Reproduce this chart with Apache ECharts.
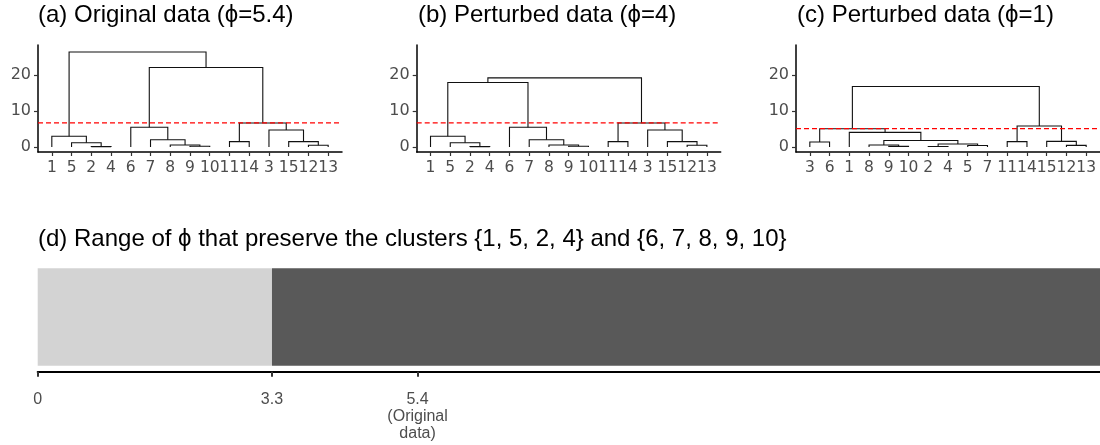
<!DOCTYPE html>
<html>
<head>
<meta charset="utf-8">
<script src="https://cdn.jsdelivr.net/npm/echarts@6/dist/echarts.min.js"></script>
<style>
html,body{margin:0;padding:0;background:#fff;}
#chart{width:1100px;height:445px;}
</style>
</head>
<body>
<div id="chart"></div>
<script>
// ---------- DATA ----------
// Dendrogram leaf orders (left to right)
const leavesA = ['1','5','2','4','6','7','8','9','10','11','14','3','15','12','13'];
const leavesB = ['1','5','2','4','6','7','8','9','10','11','14','3','15','12','13'];
const leavesC = ['3','6','1','8','9','10','2','4','5','7','11','14','15','12','13'];
// hclust-style merges: negative = leaf label, positive = earlier merge (1-based)
const mergesA = [[-2,-4],[-5,1],[-1,2],[-9,-10],[-8,4],[-7,5],[-6,6],[-11,-14],[-12,-13],[-15,9],[-3,10],[8,11],[7,12],[3,13]];
const heightsA = [0.1,1.2,3.0,0.2,0.55,2.0,5.5,1.5,0.5,1.5,4.7,6.65,22.1,26.4];
const mergesB = [[-2,-4],[-5,1],[-1,2],[-9,-10],[-8,4],[-7,5],[-6,6],[-11,-14],[-12,-13],[-15,9],[-3,10],[8,11],[3,7],[13,12]];
const heightsB = [0.1,1.2,3.0,0.2,0.55,2.0,5.5,1.5,0.5,1.5,4.7,6.65,17.9,19.2];
const mergesC = [[-3,-6],[-9,-10],[-8,2],[-2,-4],[-5,-7],[4,5],[3,6],[-1,7],[1,8],[-11,-14],[-12,-13],[-15,11],[10,12],[9,13]];
const heightsC = [1.4,0.17,0.55,0.12,0.4,0.85,1.8,4.05,5.05,1.5,0.45,1.55,5.85,16.8];
// Cut heights (red dashed lines)
const cutA = 6.7, cutB = 6.7, cutC = 5.1;
// Panel titles
const titles = ['(a) Original data (\u03D5=5.4)', '(b) Perturbed data (\u03D5=4)', '(c) Perturbed data (\u03D5=1)',
  '(d) Range of \u03D5 that preserve the clusters {1, 5, 2, 4} and {6, 7, 8, 9, 10}'];
// y ticks of dendrograms
const dendroTicks = [0, 10, 20];
// Range bar (panel d): segments [start, end]
const rangeSegments = [[0, 3.33], [3.33, 15.1]];
const rangeColors = ['#d3d3d3', '#595959'];
const rangeTickValues = [0, 3.33, 5.4];
const rangeTickLabels = ['0', '3.3', '5.4\n(Original\ndata)'];

// ---------- BUILD ----------
function dendroSegments(leaves, merges, heights) {
  const pos = [], h = [], segs = [];
  function node(ref) {
    if (ref < 0) return { x: leaves.indexOf(String(-ref)) + 1, y: 0 };
    return { x: pos[ref - 1], y: h[ref - 1] };
  }
  merges.forEach((m, i) => {
    const a = node(m[0]), b = node(m[1]);
    const l = a.x <= b.x ? a : b, r = a.x <= b.x ? b : a;
    segs.push([l.x, l.y, r.x, r.y, heights[i]]);
    pos[i] = (a.x + b.x) / 2; h[i] = heights[i];
  });
  return segs;
}

const font = 'Liberation Sans, Arial, Helvetica, sans-serif';
const tickFont = 'DejaVu Sans, Liberation Sans, sans-serif';
const dendros = [
  { leaves: leavesA, merges: mergesA, heights: heightsA, cut: cutA, left: 38 },
  { leaves: leavesB, merges: mergesB, heights: heightsB, cut: cutB, left: 416.7 },
  { leaves: leavesC, merges: mergesC, heights: heightsC, cut: cutC, left: 796 }
];

const grids = [], xAxes = [], yAxes = [], series = [];
const leafTicks = leavesA.map((_, i) => i + 1);

dendros.forEach((d, k) => {
  grids.push({ left: d.left, top: 45, width: 304, height: 107 });
  xAxes.push({
    gridIndex: k, type: 'value', min: 0.3, max: 15.7,
    axisLine: { show: true, onZero: false, lineStyle: { color: '#000', width: 1.5 } },
    axisTick: { show: true, customValues: leafTicks, length: 4, lineStyle: { color: '#333', width: 1.2 } },
    axisLabel: { show: true, customValues: leafTicks, margin: 8, color: '#4d4d4d', fontSize: 15.5, fontFamily: tickFont,
      hideOverlap: false, interval: 0,
      formatter: v => d.leaves[Math.round(v) - 1] },
    splitLine: { show: false }
  });
  yAxes.push({
    gridIndex: k, type: 'value', min: -1.39, max: 28.33,
    axisLine: { show: true, onZero: false, lineStyle: { color: '#000', width: 1.5 } },
    axisTick: { show: true, customValues: dendroTicks, length: 4, lineStyle: { color: '#333', width: 1.2 } },
    axisLabel: { show: true, customValues: dendroTicks, margin: 7, color: '#4d4d4d', fontSize: 16, fontFamily: tickFont },
    splitLine: { show: false }
  });
  series.push({
    type: 'custom', xAxisIndex: k, yAxisIndex: k, silent: true,
    data: dendroSegments(d.leaves, d.merges, d.heights),
    encode: { x: [0, 2], y: [1, 3, 4] },
    renderItem: (params, api) => {
      const p1 = api.coord([api.value(0), api.value(1)]);
      const p2 = api.coord([api.value(0), api.value(4)]);
      const p3 = api.coord([api.value(2), api.value(4)]);
      const p4 = api.coord([api.value(2), api.value(3)]);
      return { type: 'polyline', shape: { points: [p1, p2, p3, p4] },
        style: { stroke: '#111', lineWidth: 1.1, fill: null } };
    }
  });
  // red dashed cut line spanning the panel width
  series.push({
    type: 'custom', xAxisIndex: k, yAxisIndex: k, silent: true, z: 5,
    data: [[d.cut]],
    encode: { y: 0 },
    renderItem: (params, api) => {
      const cs = params.coordSys;
      const y = api.coord([1, api.value(0)])[1];
      return { type: 'line', shape: { x1: cs.x, y1: y, x2: cs.x + cs.width, y2: y },
        style: { stroke: '#ff0000', lineWidth: 1.1, lineDash: [5, 3] } };
    }
  });
});

// Panel d
grids.push({ left: 37.7, top: 268.3, right: 0, height: 103.4 });
xAxes.push({
  gridIndex: 3, type: 'value', min: 0, max: 15.1,
  axisLine: { show: true, onZero: false, lineStyle: { color: '#000', width: 2 } },
  axisTick: { show: true, customValues: rangeTickValues, length: 5, lineStyle: { color: '#333', width: 2 } },
  axisLabel: { show: true, customValues: rangeTickValues, margin: 19, color: '#4d4d4d', fontSize: 16, lineHeight: 17, fontFamily: font,
    hideOverlap: false,
    formatter: v => rangeTickLabels[rangeTickValues.indexOf(v)] },
  splitLine: { show: false }
});
yAxes.push({ gridIndex: 3, type: 'value', min: -0.062, max: 1, show: false });
series.push({
  type: 'custom', xAxisIndex: 3, yAxisIndex: 3, silent: true,
  data: rangeSegments.map((s, i) => [s[0], s[1], i]),
  encode: { x: [0, 1] },
  renderItem: (params, api) => {
    const a = api.coord([api.value(0), 1]);
    const b = api.coord([api.value(1), 0]);
    return { type: 'rect', shape: { x: a[0], y: a[1], width: b[0] - a[0], height: b[1] - a[1] },
      style: { fill: rangeColors[api.value(2)] } };
  }
});

const titlePos = [[38, 3], [418, 3], [797, 3], [38, 227]];
const option = {
  animation: false,
  backgroundColor: '#fff',
  title: titles.map((t, i) => ({ text: t, left: titlePos[i][0], top: titlePos[i][1], padding: 0,
    textStyle: { fontSize: 24, fontWeight: 'normal', color: '#000', fontFamily: font } })),
  grid: grids, xAxis: xAxes, yAxis: yAxes, series: series
};
const chart = echarts.init(document.getElementById('chart'), null, { renderer: 'canvas' });
chart.setOption(option);
</script>
</body>
</html>
